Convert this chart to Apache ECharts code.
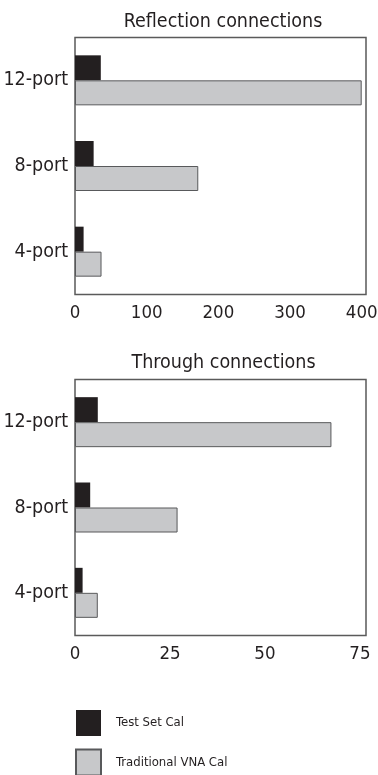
<!DOCTYPE html>
<html>
<head>
<meta charset="utf-8">
<script src="https://cdn.jsdelivr.net/npm/echarts@6/dist/echarts.min.js"></script>
<style>
html,body{margin:0;padding:0;background:#fff;}
#chart{width:378px;height:775px;}
</style>
</head>
<body>
<div id="chart"></div>
<script>
var categories = ['4-port', '8-port', '12-port'];
var seriesNames = ['Test Set Cal', 'Traditional VNA Cal'];
var reflectionTestSet = [12, 26, 36];
var reflectionTraditional = [37, 172, 400];
var throughTestSet = [2, 4, 6];
var throughTraditional = [6, 27, 67.5];
var reflectionTicks = [0, 100, 200, 300, 400];
var throughTicks = [0, 25, 50, 75];
var titles = ['Reflection connections', 'Through connections'];

var FONT = "'Liberation Sans Narrow', 'Arial Narrow', 'DejaVu Sans Condensed', sans-serif";
var TXT = '#231f20';
var BLACK = '#231f20';
var GRAY = '#c7c8ca';
var EDGE = '#58595b';

function xAx(idx, max, step, ticks) {
  return {
    type: 'value', gridIndex: idx, min: 0, max: max, interval: step,
    axisLine: {show: false}, axisTick: {show: false}, splitLine: {show: false},
    axisLabel: {
      color: TXT, fontFamily: FONT, fontSize: 18.5, margin: 9,
      showMaxLabel: false,
      formatter: function (v) { return ticks.indexOf(v) >= 0 ? String(v) : ''; }
    }
  };
}
function yAx(idx) {
  return {
    type: 'category', gridIndex: idx, data: categories,
    axisLine: {show: false}, axisTick: {show: false}, splitLine: {show: false},
    axisLabel: {color: TXT, fontFamily: FONT, fontSize: 19.5, margin: 7}
  };
}
function barS(name, data, idx, isGray) {
  return {
    name: name, type: 'bar', xAxisIndex: idx, yAxisIndex: idx, data: data,
    barWidth: 25, barGap: '0%',
    itemStyle: isGray ? {color: GRAY, borderColor: EDGE, borderWidth: 1} : {color: BLACK, borderWidth: 0},
    emphasis: {disabled: true},
    animation: false
  };
}

var chart = echarts.init(document.getElementById('chart'), null, {renderer: 'canvas'});
chart.setOption({
  backgroundColor: '#ffffff',
  animation: false,
  title: [
    {text: titles[0], left: 218, top: 7, textAlign: 'center',
     textStyle: {color: TXT, fontFamily: FONT, fontSize: 19.5, fontWeight: 'normal'}},
    {text: titles[1], left: 218.5, top: 348, textAlign: 'center',
     textStyle: {color: TXT, fontFamily: FONT, fontSize: 19.5, fontWeight: 'normal'}}
  ],
  grid: [
    {left: 75, width: 291, top: 37.5, height: 257, show: true, borderColor: '#5a5a5a', borderWidth: 1.5, backgroundColor: 'transparent', containLabel: false, outerBoundsMode: 'none'},
    {left: 75, width: 291, top: 379.5, height: 256, show: true, borderColor: '#5a5a5a', borderWidth: 1.5, backgroundColor: 'transparent', containLabel: false, outerBoundsMode: 'none'}
  ],
  xAxis: [xAx(0, 406, 100, reflectionTicks), xAx(1, 76.6, 25, throughTicks)],
  yAxis: [yAx(0), yAx(1)],
  legend: {
    orient: 'vertical', left: 75, top: 710, padding: 0, itemWidth: 25, itemHeight: 26, itemGap: 12.5,
    height: 70,
    selectedMode: false,
    data: [
      {name: seriesNames[0], icon: 'rect'},
      {name: seriesNames[1], icon: 'rect'}
    ],
    textStyle: {color: TXT, fontFamily: FONT, fontSize: 13, padding: [0, 0, 0, 10]}
  },
  series: [
    barS(seriesNames[0], reflectionTestSet, 0, false),
    barS(seriesNames[1], reflectionTraditional, 0, true),
    barS(seriesNames[0], throughTestSet, 1, false),
    barS(seriesNames[1], throughTraditional, 1, true)
  ]
});
</script>
</body>
</html>
